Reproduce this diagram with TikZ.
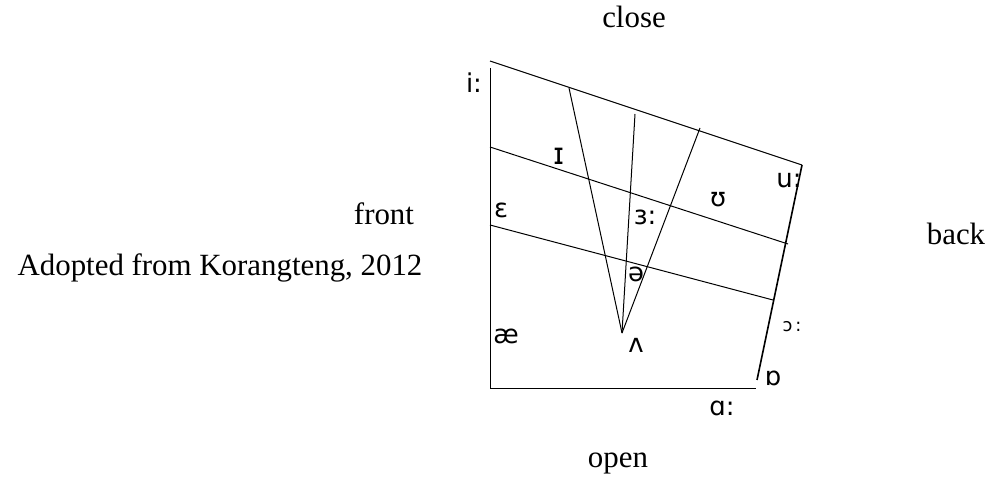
\documentclass[tikz,border=0pt]{standalone}
\usepackage{fontspec}
\setmainfont{Liberation Serif}
\newfontfamily\ipafont{DejaVu Sans}
\usetikzlibrary{positioning}

\begin{document}
\begin{tikzpicture}[
    x=1bp, y=-1bp,
    every node/.style={inner sep=0pt},
    axis/.style={font=\fontsize{31}{36}\selectfont, anchor=base},
    vowel/.style={font=\ipafont\fontsize{26}{30}\selectfont},
    small vowel/.style={font=\ipafont\fontsize{18}{22}\selectfont},
    chart/.style={line width=1bp}
]
    \useasboundingbox (0,0) rectangle (992,477);

    % corners of the chart
    \coordinate (ftop) at (490,68);
    \coordinate (tl) at (490,61);
    \coordinate (tr) at (802,165);
    \coordinate (br) at (757,380);
    \coordinate (bl) at (490,388);
    \coordinate (bb) at (756,388);
    \coordinate (m1l) at (490,147);
    \coordinate (m1r) at (788,244);
    \coordinate (m2l) at (490,225);
    \coordinate (m2r) at (773,300);
    \coordinate (apex) at (622,333);
    \coordinate (f1) at (569,88);
    \coordinate (f2) at (635,114);
    \coordinate (f3) at (700,128);

    % outline
    \draw[chart] (ftop) -- (bl) -- (bb);
    \draw[chart] (tl) -- (tr);
    \draw[line width=1.6bp] (tr) -- (br);
    \draw[chart] (m1l) -- (m1r);
    \draw[chart] (m2l) -- (m2r);

    % central fan
    \draw[chart] (apex) -- (f1);
    \draw[chart] (apex) -- (f2);
    \draw[chart] (apex) -- (f3);

    % vowels
    \node[vowel] (ii) at (474,83) {i:};
    \node[vowel, font=\ipafont\fontsize{30}{34}\selectfont] (ih) at (559,156) {ɪ};
    \node[vowel] (uu) at (789,180) {u:};
    \node[vowel] (uh) at (718,200) {ʊ};
    \node[vowel] (eh) at (501,210) {ɛ};
    \node[vowel] (er) at (645,217) {ɜ:};
    \node[vowel] (schwa) at (636,274) {ə};
    \node[small vowel] (aw) at (792,327) {ɔ\,:};
    \node[vowel] (ae) at (506,336) {æ};
    \node[vowel] (uh2) at (636,345) {ʌ};
    \node[vowel] (oh) at (773,378) {ɒ};
    \node[vowel] (aa) at (722,408) {ɑ:};

    % axis labels
    \node[axis] (close) at (634,28) {close};
    \node[axis] (open) at (618,467) {open};
    \node[axis] (front) at (384,225) {front};
    \node[axis] (back) at (956,245) {back};
    \node[axis] (source) at (220,276) {Adopted from Korangteng, 2012};
\end{tikzpicture}
\end{document}
